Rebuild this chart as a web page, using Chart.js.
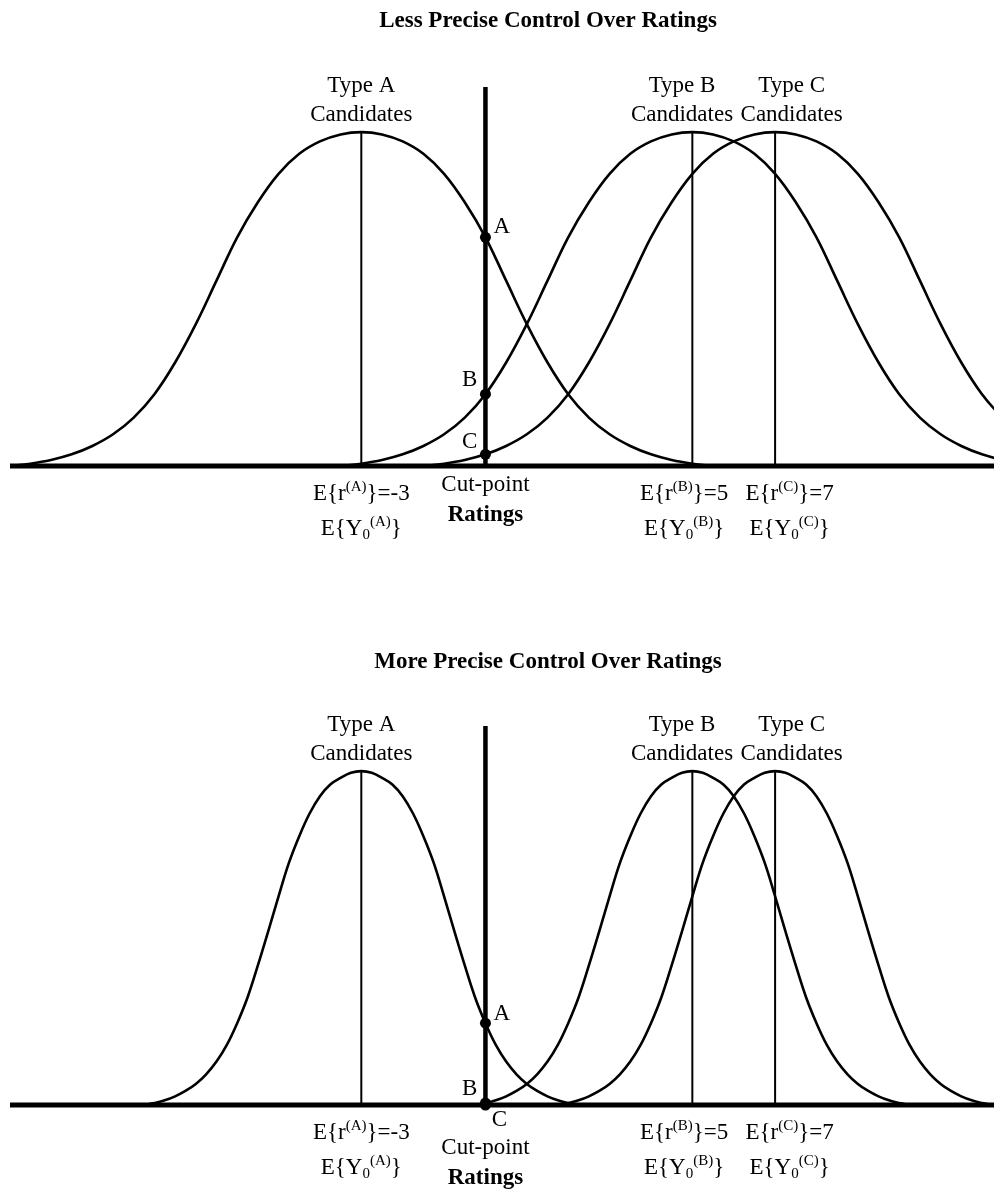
<!DOCTYPE html>
<html>
<head>
<meta charset="utf-8">
<title>Control Over Ratings</title>
<script src="https://cdn.jsdelivr.net/npm/chart.js@4.4.1/dist/chart.umd.min.js"></script>
<style>
html,body{margin:0;padding:0;background:#fff;overflow:hidden;}
canvas{display:block;}
</style>
</head>
<body>
<canvas id="chart1" width="994" height="640"></canvas>
<canvas id="chart2" width="994" height="549"></canvas>
<script>
// candidate types and their expected ratings
var tipos = ['A', 'B', 'C'];
var medias = [-3, 5, 7];
var corte = 0;

// less precise control: ratings and density heights
var ratingsATop = [-11.5,-11,-10.5,-10,-9.5,-9,-8.5,-8,-7.5,-7,-6.5,-6,-5.5,-5,-4.5,-4,-3.5,-3,-2.5,-2,-1.5,-1,-0.5,0,0.5,1,1.5,2,2.5,3,3.5,4,4.5,5,5.5];
var ratingsBTop = [-3.5,-3,-2.5,-2,-1.5,-1,-0.5,0,0.5,1,1.5,2,2.5,3,3.5,4,4.5,5,5.5,6,6.5,7,7.5,8,8.5,9,9.5,10,10.5,11,11.5,12,12.5,13,13.5];
var ratingsCTop = [-1.5,-1,-0.5,0,0.5,1,1.5,2,2.5,3,3.5,4,4.5,5,5.5,6,6.5,7,7.5,8,8.5,9,9.5,10,10.5,11,11.5,12,12.5,13,13.5,14,14.5,15,15.5];
var typeATop = [0,0.007,0.018,0.035,0.06,0.095,0.145,0.215,0.31,0.425,0.555,0.685,0.79,0.875,0.935,0.972,0.993,1,0.993,0.972,0.935,0.875,0.79,0.685,0.555,0.425,0.31,0.215,0.145,0.095,0.06,0.035,0.018,0.007,0];
var typeBTop = [0,0.007,0.018,0.035,0.06,0.095,0.145,0.215,0.31,0.425,0.555,0.685,0.79,0.875,0.935,0.972,0.993,1,0.993,0.972,0.935,0.875,0.79,0.685,0.555,0.425,0.31,0.215,0.145,0.095,0.06,0.035,0.018,0.007,0];
var typeCTop = [0,0.007,0.018,0.035,0.06,0.095,0.145,0.215,0.31,0.425,0.555,0.685,0.79,0.875,0.935,0.972,0.993,1,0.993,0.972,0.935,0.875,0.79,0.685,0.555,0.425,0.31,0.215,0.145,0.095,0.06,0.035,0.018,0.007,0];
var dotsTop = [0.685, 0.215, 0.035];

// more precise control
var ratingsABottom = [-8.25,-8,-7.75,-7.5,-7.25,-7,-6.75,-6.5,-6.25,-6,-5.75,-5.5,-5.25,-5,-4.75,-4.5,-4.25,-4,-3.75,-3.5,-3.25,-3,-2.75,-2.5,-2.25,-2,-1.75,-1.5,-1.25,-1,-0.75,-0.5,-0.25,0,0.25,0.5,0.75,1,1.25,1.5,1.75,2,2.25];
var ratingsBBottom = [-0.25,0,0.25,0.5,0.75,1,1.25,1.5,1.75,2,2.25,2.5,2.75,3,3.25,3.5,3.75,4,4.25,4.5,4.75,5,5.25,5.5,5.75,6,6.25,6.5,6.75,7,7.25,7.5,7.75,8,8.25,8.5,8.75,9,9.25,9.5,9.75,10,10.25];
var ratingsCBottom = [1.75,2,2.25,2.5,2.75,3,3.25,3.5,3.75,4,4.25,4.5,4.75,5,5.25,5.5,5.75,6,6.25,6.5,6.75,7,7.25,7.5,7.75,8,8.25,8.5,8.75,9,9.25,9.5,9.75,10,10.25,10.5,10.75,11,11.25,11.5,11.75,12,12.25];
var typeABottom = [0,0.006,0.014,0.026,0.042,0.063,0.092,0.13,0.18,0.245,0.322,0.418,0.52,0.625,0.725,0.805,0.873,0.925,0.96,0.98,0.995,1,0.995,0.98,0.96,0.925,0.873,0.805,0.725,0.625,0.52,0.418,0.322,0.245,0.18,0.13,0.092,0.063,0.042,0.026,0.014,0.006,0];
var typeBBottom = [0,0.006,0.014,0.026,0.042,0.063,0.092,0.13,0.18,0.245,0.322,0.418,0.52,0.625,0.725,0.805,0.873,0.925,0.96,0.98,0.995,1,0.995,0.98,0.96,0.925,0.873,0.805,0.725,0.625,0.52,0.418,0.322,0.245,0.18,0.13,0.092,0.063,0.042,0.026,0.014,0.006,0];
var typeCBottom = [0,0.006,0.014,0.026,0.042,0.063,0.092,0.13,0.18,0.245,0.322,0.418,0.52,0.625,0.725,0.805,0.873,0.925,0.96,0.98,0.995,1,0.995,0.98,0.96,0.925,0.873,0.805,0.725,0.625,0.52,0.418,0.322,0.245,0.18,0.13,0.092,0.063,0.042,0.026,0.014,0.006,0];
var dotsBottom = [0.245, 0.006, 0];

var xMin = -11.49;
var xMax = 12.29;
var serif = '"Liberation Serif","Times New Roman",serif';

function puntos(xs, ys){
    return xs.map(function(x, i){ return {x: x, y: ys[i]}; });
}

function linea(data, ancho){
    return {data: data, showLine: true, borderColor: '#000', borderWidth: ancho,
            pointRadius: 0, clip: false, order: 2};
}

function curva(xs, ys){
    return {data: puntos(xs, ys), showLine: true, borderColor: '#000', borderWidth: 2.6,
            pointRadius: 0, tension: 0.4, order: 3};
}

// text with superscripts / subscripts, centred on cx
function textoRico(ctx, partes, cx, y){
    var total = 0;
    partes.forEach(function(p){
        ctx.font = (p[1] ? '15px ' : '23px ') + serif;
        p.w = ctx.measureText(p[0]).width;
        total += p.w;
    });
    var x = cx - total / 2;
    ctx.textAlign = 'left';
    partes.forEach(function(p){
        ctx.font = (p[1] ? '15px ' : '23px ') + serif;
        var dy = p[1] == 1 ? -9 : (p[1] == -1 ? 4 : 0);
        ctx.fillText(p[0], x, y + dy);
        x += p.w;
    });
}

function textos(panel){
    return {
        id: 'textos',
        afterDraw: function(chart){
            var ctx = chart.ctx;
            var sx = chart.scales.x, sy = chart.scales.y;
            var base = sy.getPixelForValue(0);
            var pico = sy.getPixelForValue(1);
            var xc = sx.getPixelForValue(corte);
            ctx.save();
            ctx.fillStyle = '#000';
            ctx.textBaseline = 'alphabetic';

            ctx.textAlign = 'center';
            ctx.font = 'bold 23px ' + serif;
            ctx.fillText(panel.titulo, 548, panel.tituloY);

            ctx.font = '23px ' + serif;
            tipos.forEach(function(t, i){
                var x = sx.getPixelForValue(panel.tipoEn[i]);
                ctx.fillText('Type ' + t, x, pico - 40);
                ctx.fillText('Candidates', x, pico - 11);
            });

            tipos.forEach(function(t, i){
                var x = sx.getPixelForValue(panel.mediaEn[i]);
                textoRico(ctx, [['E{r', 0], ['(' + t + ')', 1], ['}=' + medias[i], 0]], x, base + 34);
                textoRico(ctx, [['E{Y', 0], ['0', -1], ['(' + t + ')', 1], ['}', 0]], x, base + 69);
            });

            ctx.textAlign = 'center';
            ctx.font = '23px ' + serif;
            ctx.fillText('Cut-point', xc, base + panel.corteY);
            ctx.font = 'bold 23px ' + serif;
            ctx.fillText('Ratings', xc, base + panel.corteY + 30);

            ctx.font = '23px ' + serif;
            panel.letras.forEach(function(l, i){
                ctx.textAlign = l.align;
                var y = l.eje ? base + l.dy : sy.getPixelForValue(panel.dots[i]) + l.dy;
                ctx.fillText(tipos[i], xc + l.dx, y);
            });
            ctx.restore();
        }
    };
}

function grafico(id, panel){
    var datasets = [
        curva(panel.ratings[0], panel.curvas[0]),
        curva(panel.ratings[1], panel.curvas[1]),
        curva(panel.ratings[2], panel.curvas[2]),
        linea([{x: xMin, y: 0}, {x: xMax, y: 0}], 5),
        linea([{x: corte, y: 0}, {x: corte, y: 1.135}], 4.5)
    ];
    medias.forEach(function(m){
        datasets.push(linea([{x: m, y: 0}, {x: m, y: 1}], 2));
    });
    datasets.push({
        data: panel.dots.map(function(d){ return {x: corte, y: d}; }),
        pointRadius: 5.5, pointBackgroundColor: '#000', pointBorderWidth: 0,
        showLine: false, clip: false, order: 0
    });

    var canvas = document.getElementById(id).getContext('2d');
    return new Chart(canvas, {
        type: 'scatter',
        data: {datasets: datasets},
        options: {
            responsive: false,
            animation: false,
            events: [],
            layout: {padding: panel.padding, autoPadding: false},
            plugins: {legend: {display: false}, tooltip: {enabled: false}},
            scales: {
                x: {type: 'linear', min: xMin, max: xMax, display: false},
                y: {min: 0, max: 1.15, display: false}
            }
        },
        plugins: [textos(panel)]
    });
}

grafico('chart1', {
    titulo: 'Less Precise Control Over Ratings', tituloY: 27,
    ratings: [ratingsATop, ratingsBTop, ratingsCTop], curvas: [typeATop, typeBTop, typeCTop], dots: dotsTop,
    tipoEn: [-3, 4.75, 7.4], mediaEn: [-3, 4.8, 7.35], corteY: 25,
    letras: [{dx: 8, dy: -4, align: 'left'}, {dx: -8, dy: -8, align: 'right'}, {dx: -8, dy: -6, align: 'right'}],
    padding: {left: 10, right: 0, top: 82, bottom: 174}
});

grafico('chart2', {
    titulo: 'More Precise Control Over Ratings', tituloY: 28,
    ratings: [ratingsABottom, ratingsBBottom, ratingsCBottom], curvas: [typeABottom, typeBBottom, typeCBottom], dots: dotsBottom,
    tipoEn: [-3, 4.75, 7.4], mediaEn: [-3, 4.8, 7.35], corteY: 49,
    letras: [{dx: 8, dy: -3, align: 'left'}, {dx: -8, dy: -8, align: 'right'}, {dx: 14, dy: 21, align: 'center', eje: true}],
    padding: {left: 10, right: 0, top: 81, bottom: 84}
});
</script>
</body>
</html>
